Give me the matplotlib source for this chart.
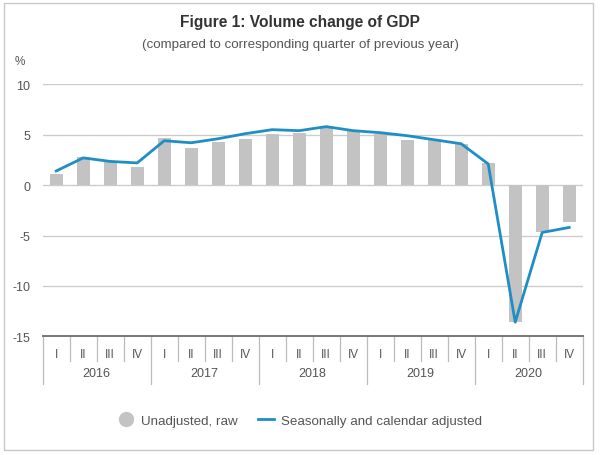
import matplotlib
matplotlib.use("Agg")
import matplotlib.pyplot as plt
from matplotlib.lines import Line2D
from matplotlib.patches import Rectangle
from matplotlib.transforms import blended_transform_factory

plt.rcParams['font.family'] = ['Liberation Sans', 'DejaVu Sans']
plt.rcParams['axes.unicode_minus'] = False

# data
years = ['2016', '2017', '2018', '2019', '2020']
quarters = ['I', 'II', 'III', 'IV']
unadjusted = [1.1, 2.8, 2.3, 1.8,
              4.7, 3.7, 4.3, 4.6,
              5.1, 5.2, 5.7, 5.4,
              5.1, 4.5, 4.5, 4.1,
              2.2, -13.6, -4.7, -3.7]
adjusted = [1.4, 2.7, 2.35, 2.2,
            4.4, 4.2, 4.6, 5.1,
            5.5, 5.4, 5.8, 5.4,
            5.2, 4.9, 4.5, 4.1,
            2.1, -13.6, -4.7, -4.2]
y_ticks = [-15, -10, -5, 0, 5, 10]

bar_color = '#c3c3c3'
line_color = '#1f8ec6'
text_dark = '#333333'
text_mid = '#555555'

fig = plt.figure(figsize=(6, 4.56), dpi=100)
ax = fig.add_axes([42.7 / 600, 1 - 337.3 / 456, 540 / 600, 252 / 456])

x = list(range(len(unadjusted)))
ax.bar(x, unadjusted, width=0.48, color=bar_color, zorder=2)
ax.plot(x, adjusted, color=line_color, linewidth=2, zorder=3)

ax.set_xlim(-0.5, len(x) - 0.5)
ax.set_ylim(-15, 10)
ax.set_yticks(y_ticks)
ax.set_yticklabels([str(v) for v in y_ticks])
ax.tick_params(axis='y', length=0, pad=9, labelsize=9, labelcolor=text_mid)
ax.set_xticks([])
for v in y_ticks[1:]:
    ax.axhline(v, color='#cccccc', linewidth=1, zorder=1)
for s in ['top', 'right', 'left']:
    ax.spines[s].set_visible(False)
ax.spines['bottom'].set_color('#777777')
ax.spines['bottom'].set_linewidth(1.4)

# two level category axis
tr = blended_transform_factory(ax.transData, fig.transFigure)
y_axis = 1 - 337.3 / 456
y_short = 1 - 362 / 456
y_long = 1 - 385 / 456
for k in range(len(x) + 1):
    y_end = y_long if k % 4 == 0 else y_short
    ax.plot([k - 0.5, k - 0.5], [y_axis, y_end], transform=tr, color='#bbbbbb',
            linewidth=0.9, clip_on=False)
for k in x:
    ax.text(k, 1 - 355 / 456, quarters[k % 4], transform=tr, ha='center',
            va='center', fontsize=8.5, color=text_mid)
for i, yr in enumerate(years):
    ax.text(i * 4 + 1.5, 1 - 374 / 456, yr, transform=tr, ha='center',
            va='center', fontsize=9, color=text_mid)

fig.text(0.5, 1 - 23 / 456, 'Figure 1: Volume change of GDP', ha='center',
         va='center', fontsize=11.2, fontweight='bold', color=text_dark)
fig.text(0.5, 1 - 45 / 456, '(compared to corresponding quarter of previous year)',
         ha='center', va='center', fontsize=9.6, color=text_mid)
fig.text(20 / 600, 1 - 62 / 456, '%', ha='center', va='center', fontsize=8.5,
         color=text_mid)

handles = [Line2D([], [], linestyle='none', marker='o', markersize=10,
                  markerfacecolor=bar_color, markeredgecolor=bar_color),
           Line2D([], [], color=line_color, linewidth=2)]
fig.legend(handles, ['Unadjusted, raw', 'Seasonally and calendar adjusted'],
           loc='center', bbox_to_anchor=(0.5, 1 - 421.5 / 456), ncol=2,
           frameon=False, fontsize=9.6, handlelength=1.2, handletextpad=0.5,
           columnspacing=1.6, labelcolor=text_mid)

fig.patches.append(Rectangle((4 / 600, 1 - 451 / 456), 589 / 600, 447 / 456,
                             transform=fig.transFigure, fill=False,
                             edgecolor='#c8c8c8', linewidth=1))

fig.savefig('out.png', dpi=100)
